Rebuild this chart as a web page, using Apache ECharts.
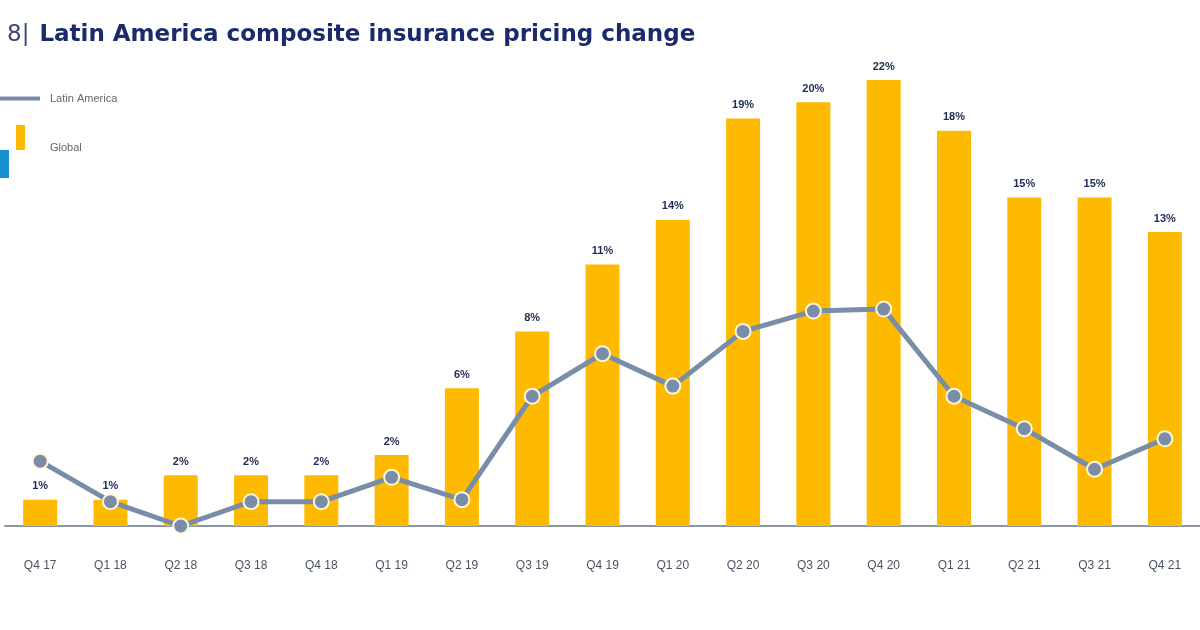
<!DOCTYPE html>
<html>
<head>
<meta charset="utf-8">
<script src="https://cdn.jsdelivr.net/npm/echarts@6/dist/echarts.min.js"></script>
<style>
html,body{margin:0;padding:0;background:#fff;}
#chart{width:1200px;height:630px;}
</style>
</head>
<body>
<div id="chart"></div>
<script>
const categories = ['Q4 17','Q1 18','Q2 18','Q3 18','Q4 18','Q1 19','Q2 19','Q3 19','Q4 19','Q1 20','Q2 20','Q3 20','Q4 20','Q1 21','Q2 21','Q3 21','Q4 21'];
// Global bars (heights, in %)
const globalValues = [1.3, 1.3, 2.5, 2.5, 2.5, 3.5, 6.8, 9.6, 12.9, 15.1, 20.1, 20.9, 22, 19.5, 16.2, 16.2, 14.5];
// printed labels above the bars
const globalLabels = ['1%','1%','2%','2%','2%','2%','6%','8%','11%','14%','19%','20%','22%','18%','15%','15%','13%'];
// Latin America line (in %)
const latamValues = [3.2, 1.2, 0, 1.2, 1.2, 2.4, 1.3, 6.4, 8.5, 6.9, 9.6, 10.6, 10.7, 6.4, 4.8, 2.8, 4.3];

const chart = echarts.init(document.getElementById('chart'));
chart.setOption({
  animation: false,
  backgroundColor: '#fff',
  title: {
    left: 2, top: 19,
    text: '{n|8|}  {t|Latin America composite insurance pricing change}',
    textStyle: {
      rich: {
        n: {fontFamily: 'DejaVu Sans', fontSize: 23, color: '#3a4670', fontWeight: 'normal'},
        t: {fontFamily: 'DejaVu Sans', fontSize: 23, color: '#1b2a6b', fontWeight: 'bold'}
      }
    }
  },
  legend: [
    {
      data: ['Latin America'], left: 0, top: 93, padding: 0, icon: 'rect',
      itemWidth: 40, itemHeight: 4,
      itemStyle: {color: '#7a8ca6', borderWidth: 0},
      textStyle: {color: '#666', fontSize: 11, fontFamily: 'Liberation Sans', padding: [0,0,0,5]}
    },
    {
      data: ['Global'], left: 16, top: 125, padding: 0,
      icon: 'path://M0 0H9V25H0Z M0 46H0.05V46.05H0Z',
      itemWidth: 9, itemHeight: 46,
      itemStyle: {color: '#fdba00', borderWidth: 0},
      textStyle: {color: '#666', fontSize: 11, fontFamily: 'Liberation Sans', padding: [0,0,0,20]}
    }
  ],
  graphic: [
    {type: 'rect', left: 0, top: 150, shape: {width: 9, height: 28}, style: {fill: '#1a8fd0'}}
  ],
  grid: {left: 5, right: -2, top: 80, bottom: 104},
  xAxis: {
    type: 'category',
    data: categories,
    axisLine: {lineStyle: {color: '#8a95a5', width: 2}},
    axisTick: {show: false},
    axisLabel: {color: '#4a5263', fontSize: 12, fontFamily: 'Liberation Sans', margin: 34}
  },
  yAxis: {
    type: 'value', min: 0, max: 22,
    show: false,
    splitLine: {show: false}
  },
  series: [
    {
      name: 'Global',
      type: 'bar',
      data: globalValues,
      barWidth: 34,
      itemStyle: {color: '#fdba00'},
      label: {
        show: true, position: 'top', distance: 8,
        color: '#1f2a55', fontSize: 11, fontWeight: 'bold', fontFamily: 'Liberation Sans',
        formatter: p => globalLabels[p.dataIndex]
      },
      z: 2
    },
    {
      name: 'Latin America',
      type: 'line',
      data: latamValues,
      lineStyle: {color: '#7a8da8', width: 5},
      itemStyle: {color: '#7a8da8', borderColor: '#fff6d8', borderWidth: 2},
      symbol: 'circle', symbolSize: 15,
      z: 3
    }
  ]
});
</script>
</body>
</html>
